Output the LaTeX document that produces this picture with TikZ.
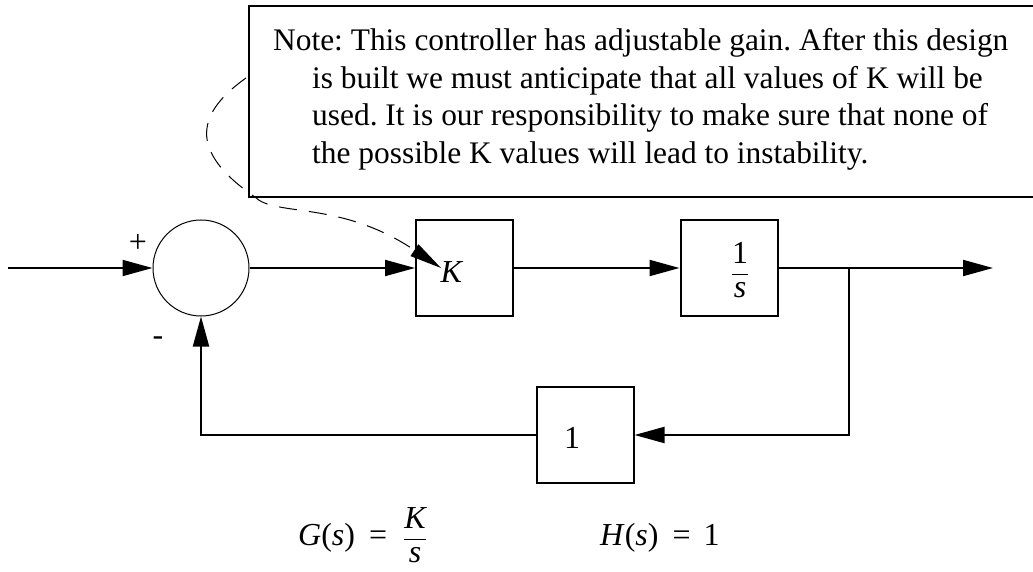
\documentclass[tikz,border=0pt]{standalone}
\usepackage{fontspec}
\setmainfont{Liberation Serif}
\usetikzlibrary{arrows.meta}
\frenchspacing

\begin{document}
\begin{tikzpicture}[x=1pt,y=-1pt,
	font=\fontsize{32}{37}\selectfont,
	block/.style={draw,line width=2pt,minimum width=97pt,minimum height=96pt,inner sep=0pt},
	sumnode/.style={draw,circle,line width=1pt,minimum size=96pt,inner sep=0pt},
	sig/.style={line width=2pt,-{Triangle[length=30pt,width=16pt]}},
	txt/.style={inner sep=0pt,anchor=base}]
	\useasboundingbox (0,0) rectangle (1033,572);
	% note box, open to the right
	\draw[line width=2pt] (1040,6) -- (249,6) -- (249,197) -- (1040,197);
	\node[anchor=north west,align=left,inner sep=0pt,font=\fontsize{31.4}{37.5}\selectfont] (note) at (273,28.5)
		{Note: This controller has adjustable gain. After this design\\
		\hspace*{39pt}is built we must anticipate that all values of K will be\\
		\hspace*{39pt}used. It is our responsibility to make sure that none of\\
		\hspace*{39pt}the possible K values will lead to instability.};
	\coordinate (callout) at (246,78);
	% loop
	\coordinate (in) at (8,268);
	\node[sumnode] (sum) at (201,268) {};
	\node[block] (gain) at (464.5,268) {};
	\node[block] (plant) at (729,268) {};
	\node[block] (fb) at (585,435) {};
	\coordinate (branch) at (849,268);
	\coordinate (out) at (993,268);
	\node[txt] (gainlbl) at (452,282) {\textit{K}};
	\node[txt] (plantlbl) at (740,280) {$\displaystyle\frac{\textrm{1}}{\textit{s}}$};
	\node[txt] (fblbl) at (572,448) {1};
	\node[txt] (plus) at (138,252) {+};
	\node[txt] (minus) at (158,345) {-};
	\coordinate (ktip) at (441,268);
	\draw[sig] (in) -- (sum.west);
	\draw[sig] (sum.east) -- (gain.west);
	\draw[sig] (gain.east) -- (plant.west);
	\draw[sig] (plant.east) -- (out);
	\draw[sig] (branch) |- (fb.east);
	\draw[sig] (fb.west) -| (sum.south);
	\draw[line width=1pt,dash pattern=on 18pt off 12pt,-{Triangle[length=32pt,width=14pt]}]
		(callout) .. controls (198,112) and (186,150) .. (255,197)
		.. controls (275,217) and (340,200) .. (ktip);
	% transfer functions
	\node[txt,anchor=base west] (geq) at (298,545)
		{\textit{G}(\textit{s})\hspace{14pt}=\hspace{16pt}$\displaystyle\frac{\textit{K}}{\textit{s}}$};
	\node[txt,anchor=base west] (heq) at (600,545)
		{\textit{H}(\textit{s})\hspace{14pt}=\hspace{13pt}1};
\end{tikzpicture}
\end{document}
